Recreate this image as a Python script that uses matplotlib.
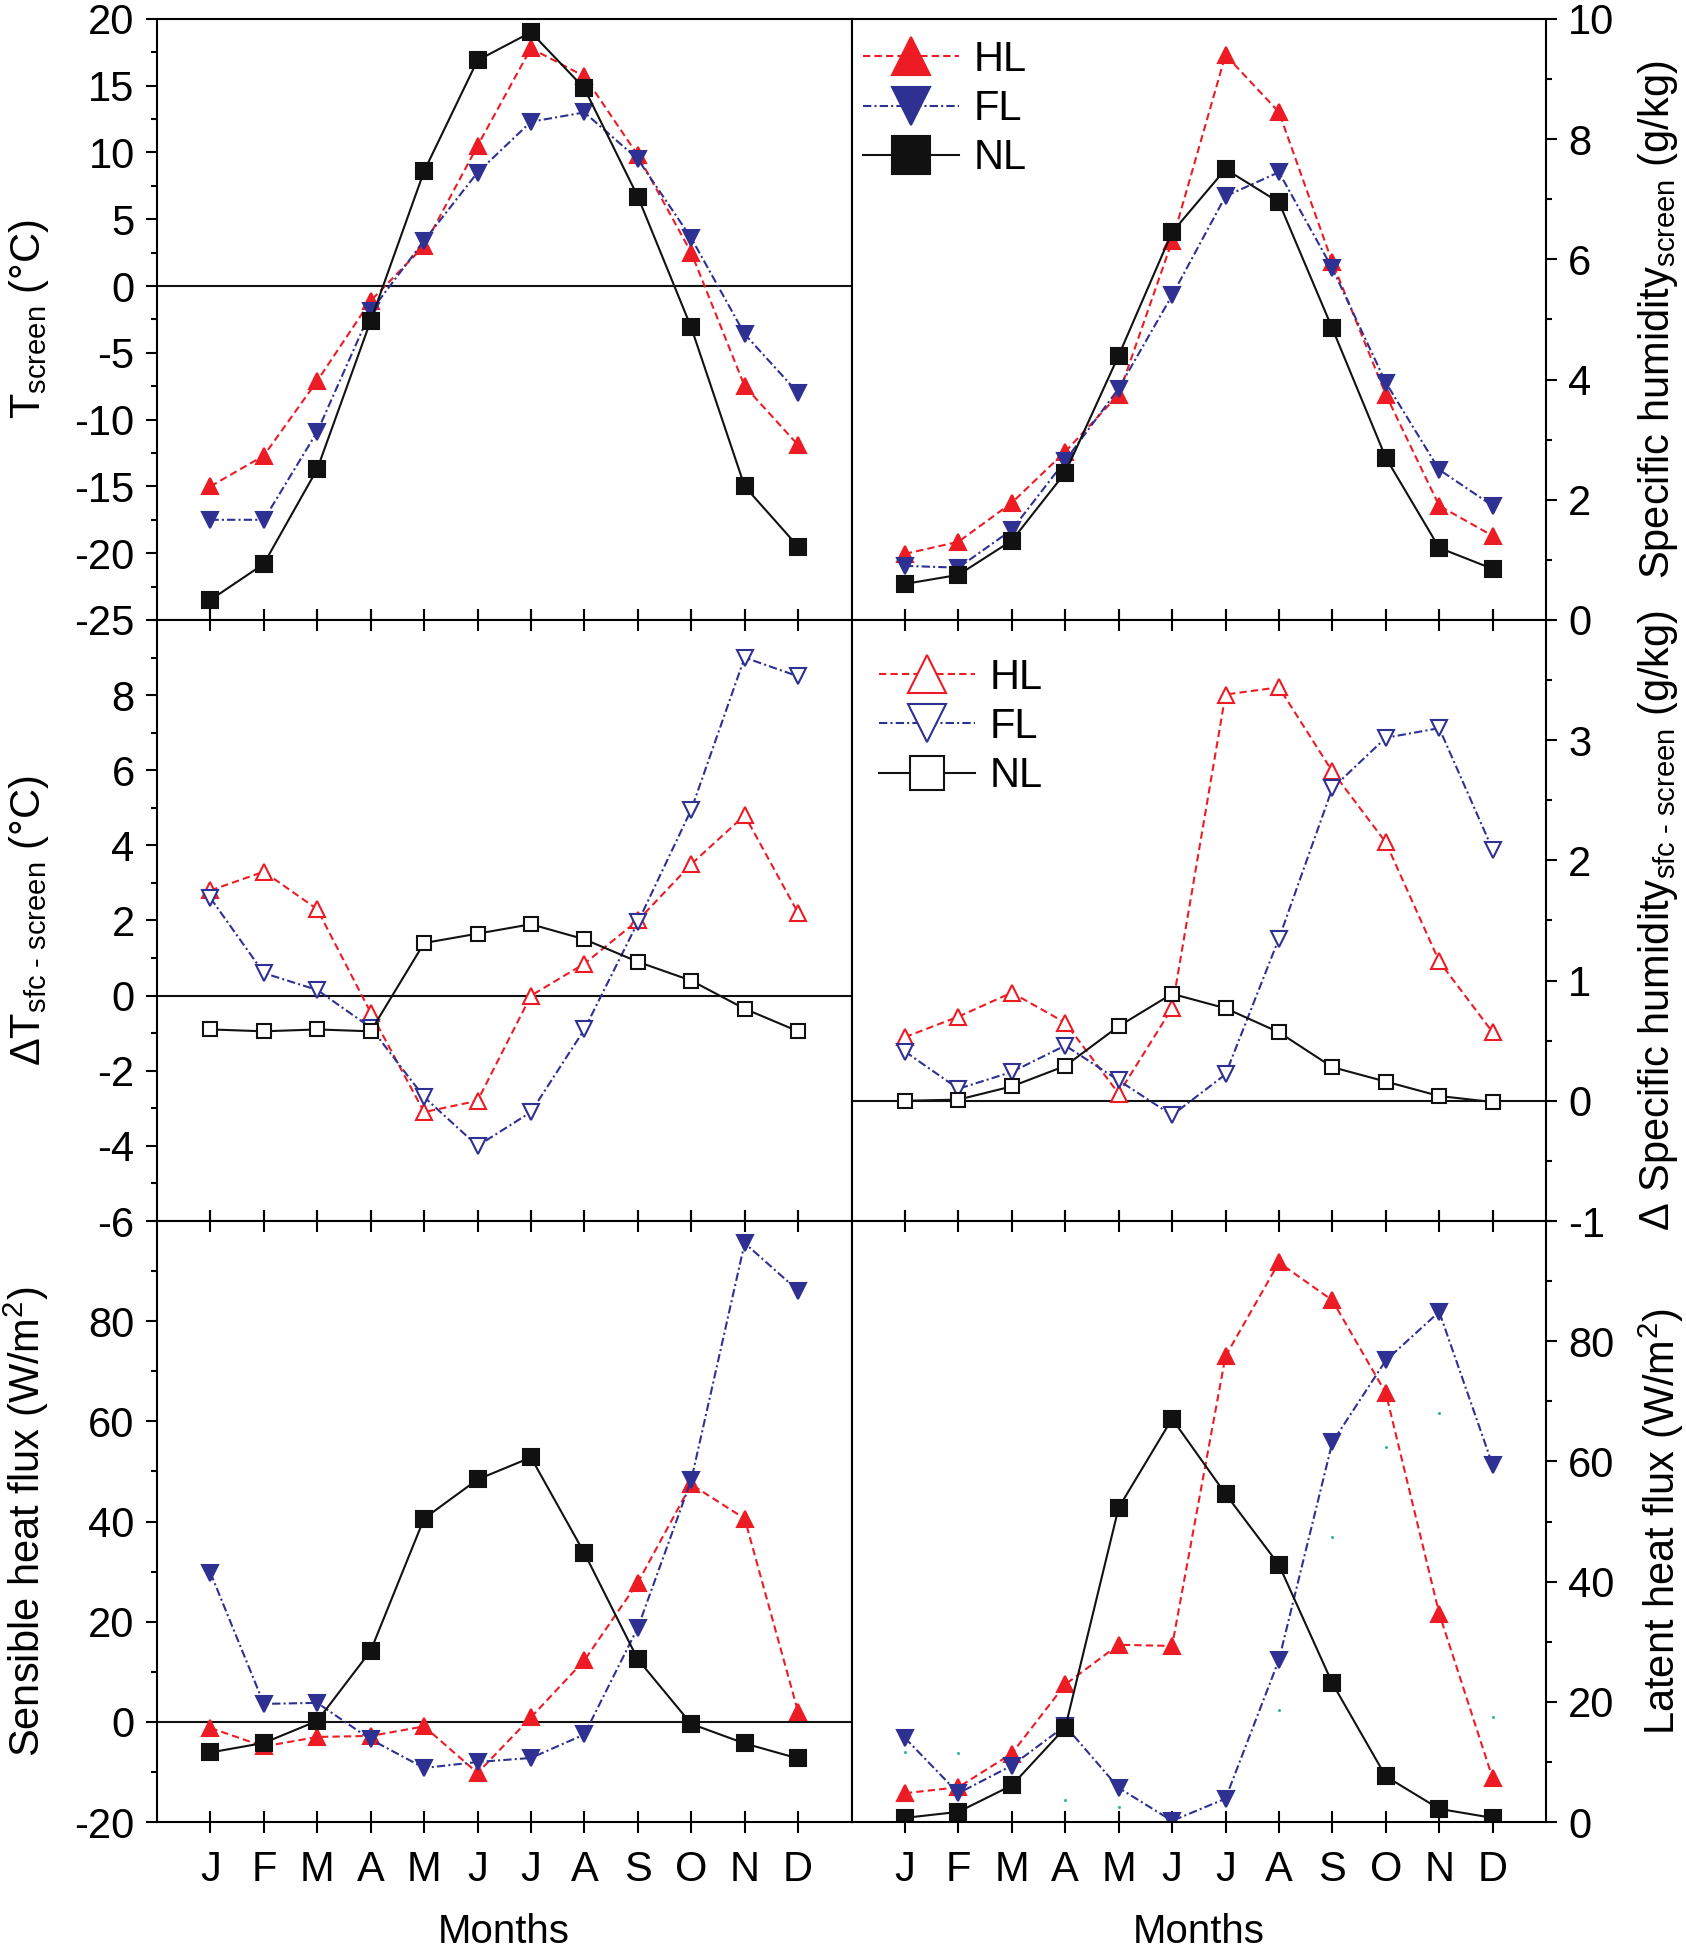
"""Monthly cycle of screen temperature, humidity and surface fluxes (HL / FL / NL)."""
import matplotlib
matplotlib.use("Agg")
import matplotlib.pyplot as plt
from matplotlib.ticker import MultipleLocator
import numpy as np

plt.rcParams["font.family"] = ["Liberation Sans", "DejaVu Sans"]
plt.rcParams["mathtext.fontset"] = "custom"
plt.rcParams["mathtext.rm"] = "Liberation Sans"
plt.rcParams["mathtext.default"] = "regular"
plt.rcParams["axes.unicode_minus"] = False

months = np.arange(1, 13)
month_labels = ["J", "F", "M", "A", "M", "J", "J", "A", "S", "O", "N", "D"]

# screen temperature (deg C)
t_hl = [-15.0, -12.7, -7.1, -1.1, 3.0, 10.5, 17.8, 15.7, 9.8, 2.5, -7.5, -11.9]
t_fl = [-17.5, -17.5, -10.9, -1.9, 3.4, 8.5, 12.3, 13.0, 9.5, 3.6, -3.6, -8.0]
t_nl = [-23.5, -20.8, -13.7, -2.6, 8.6, 16.9, 19.0, 14.8, 6.7, -3.1, -15.0, -19.5]

# screen specific humidity (g/kg)
q_hl = [1.1, 1.3, 1.95, 2.8, 3.75, 6.3, 9.4, 8.45, 5.95, 3.75, 1.9, 1.4]
q_fl = [0.9, 0.87, 1.5, 2.65, 3.85, 5.4, 7.05, 7.45, 5.85, 3.95, 2.5, 1.9]
q_nl = [0.6, 0.75, 1.32, 2.45, 4.4, 6.45, 7.5, 6.95, 4.85, 2.7, 1.2, 0.85]

# surface minus screen temperature (deg C)
dt_hl = [2.8, 3.3, 2.3, -0.45, -3.1, -2.8, 0.0, 0.85, 2.0, 3.5, 4.8, 2.2]
dt_fl = [2.6, 0.6, 0.15, -0.85, -2.7, -4.0, -3.1, -0.9, 1.95, 4.95, 9.0, 8.5]
dt_nl = [-0.9, -0.95, -0.9, -0.95, 1.4, 1.65, 1.9, 1.5, 0.9, 0.4, -0.35, -0.95]

# surface minus screen specific humidity (g/kg)
dq_hl = [0.53, 0.7, 0.9, 0.65, 0.06, 0.77, 3.38, 3.44, 2.74, 2.15, 1.16, 0.57]
dq_fl = [0.41, 0.1, 0.24, 0.46, 0.17, -0.12, 0.22, 1.35, 2.6, 3.02, 3.1, 2.09]
dq_nl = [0.0, 0.01, 0.12, 0.29, 0.62, 0.89, 0.77, 0.57, 0.28, 0.16, 0.04, -0.01]

# sensible heat flux (W/m2)
sh_hl = [-1.2, -4.9, -3.0, -2.8, -0.9, -10.2, 0.9, 12.3, 27.8, 47.4, 40.6, 2.0]
sh_fl = [29.8, 3.6, 3.8, -3.5, -9.2, -8.0, -7.2, -2.5, 18.8, 48.3, 95.6, 86.1]
sh_nl = [-6.1, -4.2, 0.2, 14.2, 40.6, 48.4, 52.8, 33.7, 12.5, -0.4, -4.3, -7.3]

# latent heat flux (W/m2)
lh_hl = [4.8, 5.8, 11.4, 22.9, 29.5, 29.3, 77.5, 93.1, 86.8, 71.4, 34.7, 7.3]
lh_fl = [14.0, 4.8, 9.4, 16.0, 5.7, 0.2, 3.9, 27.0, 63.2, 76.8, 84.9, 59.4]
lh_nl = [0.7, 1.7, 6.1, 15.7, 52.3, 67.1, 54.6, 42.8, 23.1, 7.6, 2.2, 0.7]
lh_dots = [11.6, 11.5, np.nan, 3.6, 2.5, np.nan, np.nan, 18.6, 47.5, 62.4, 68.0, 17.4]

RED = "#ED1C24"
BLUE = "#2E3192"
BLACK = "#111111"
HL_LS = (0, (3.5, 2.0))
FL_LS = (0, (4.0, 1.5, 1.0, 1.5))


def draw(ax, hl, fl, nl, filled=True):
    kw = dict(lw=1.5, ms=11, mew=1.5)
    if filled:
        ax.plot(months, hl, color=RED, ls=HL_LS, marker="^", mfc=RED, mec=RED,
                label="HL", **kw)
        ax.plot(months, fl, color=BLUE, ls=FL_LS, marker="v", mfc=BLUE, mec=BLUE,
                label="FL", **kw)
        ax.plot(months, nl, color=BLACK, ls="-", marker="s", mfc=BLACK,
                mec=BLACK, label="NL", **kw)
    else:
        ax.plot(months, hl, color=RED, ls=HL_LS, marker="^", mfc="white",
                mec=RED, label="HL", **kw)
        ax.plot(months, fl, color=BLUE, ls=FL_LS, marker="v", mfc="white",
                mec=BLUE, label="FL", **kw)
        ax.plot(months, nl, color=BLACK, ls="-", marker="s", mfc="white",
                mec=BLACK, label="NL", lw=1.5, ms=10, mew=1.5)


fig, axes = plt.subplots(3, 2, figsize=(16.86, 19.5), dpi=100)
fig.subplots_adjust(left=0.0931, right=0.917, top=0.9903, bottom=0.0656,
                    hspace=0, wspace=0)

draw(axes[0, 0], t_hl, t_fl, t_nl)
draw(axes[0, 1], q_hl, q_fl, q_nl)
draw(axes[1, 0], dt_hl, dt_fl, dt_nl, filled=False)
draw(axes[1, 1], dq_hl, dq_fl, dq_nl, filled=False)
draw(axes[2, 0], sh_hl, sh_fl, sh_nl)
draw(axes[2, 1], lh_hl, lh_fl, lh_nl)
axes[2, 1].plot(months, lh_dots, ls="none", marker="o", ms=2.2,
                color="#2FB59C", mec="none")

for ax in (axes[0, 0], axes[1, 0], axes[1, 1], axes[2, 0]):
    ax.axhline(0, color=BLACK, lw=1.5, zorder=1)

# y axes: limits, ticks, labels
ylims = [[(-25, 20), (0, 10)], [(-6, 10), (-1, 4)], [(-20, 100), (0, 100)]]
yticks = [[np.arange(-25, 21, 5), np.arange(0, 11, 2)],
          [np.arange(-6, 9, 2), np.arange(-1, 4, 1)],
          [np.arange(-20, 81, 20), np.arange(0, 81, 20)]]
yminor = [[2.5, 1], [1, 0.5], [10, 10]]
ylabels = [[r"T$_{\text{screen}}$ (°C)",
            r"Specific humidity$_{\text{screen}}$ (g/kg)"],
           [r"ΔT$_{\text{sfc - screen}}$ (°C)",
            r"Δ Specific humidity$_{\text{sfc - screen}}$ (g/kg)"],
           [r"Sensible heat flux (W/m$^{2}$)", r"Latent heat flux (W/m$^{2}$)"]]

for r in range(3):
    for c in range(2):
        ax = axes[r, c]
        ax.set_xlim(0, 13)
        ax.set_xticks(months)
        ax.set_xticklabels(month_labels)
        ax.set_ylim(*ylims[r][c])
        ax.set_yticks(yticks[r][c])
        ax.yaxis.set_minor_locator(MultipleLocator(yminor[r][c]))
        for s in ax.spines.values():
            s.set_linewidth(1.5)
        ax.tick_params(axis="x", direction="inout", length=16, width=1.5,
                       top=(r > 0), bottom=True, labelbottom=(r == 2),
                       labelsize=30, pad=12)
        ax.tick_params(axis="y", which="major", direction="out", length=8,
                       width=1.5, labelsize=30, pad=8)
        ax.tick_params(axis="y", which="minor", direction="out", length=4.5,
                       width=1.5)
        if c == 0:
            ax.yaxis.tick_left()
            ax.set_ylabel(ylabels[r][c], fontsize=30)
            ax.yaxis.set_label_coords(-0.152, 0.5)
        else:
            ax.yaxis.tick_right()
            ax.yaxis.set_label_position("right")
            ax.set_ylabel(ylabels[r][c], fontsize=30)
            ax.yaxis.set_label_coords(1.13, 0.5)
        if r == 2:
            ax.set_xlabel("Months", fontsize=29, labelpad=17)

leg_kw = dict(loc="upper left", frameon=False, fontsize=30, markerscale=2.5,
              handlelength=2.3, handletextpad=0.35, labelspacing=0.22,
              borderpad=0, borderaxespad=0)
axes[0, 1].legend(bbox_to_anchor=(0.017, 0.965), **leg_kw)
axes[1, 1].legend(bbox_to_anchor=(0.040, 0.937), **leg_kw)

fig.savefig("out.png", dpi=100)
